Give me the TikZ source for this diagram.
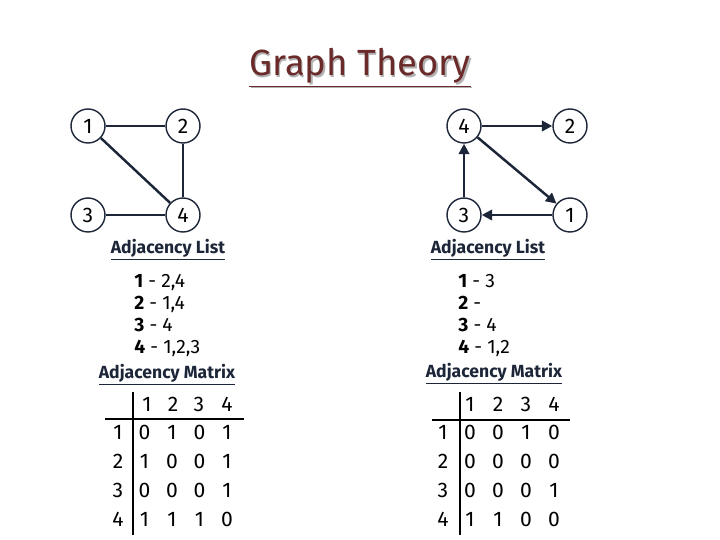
\documentclass[tikz,border=0pt]{standalone}
\usepackage{fontspec}
\setmainfont{Fira Sans}
\usetikzlibrary{arrows.meta}
\definecolor{ink}{HTML}{1C2638}
\definecolor{titlered}{HTML}{6B2A2A}
\tikzset{
  vert/.style={circle, draw=ink, thick, minimum size=0.68cm, inner sep=0pt, font=\large},
  edge/.style={draw=ink, line width=1.4pt},
  arc/.style={edge, -{Triangle[length=6pt,width=6pt]}},
  head/.style={font=\normalsize\bfseries, text=ink},
  cell/.style={font=\large},
  adjlist/.style={anchor=north west, align=left, inner sep=0pt,
    font=\fontsize{11pt}{12.5pt}\selectfont}
}
\newcommand{\ul}[1]{\underline{#1}}
\begin{document}
\begin{tikzpicture}[x=0.02cm, y=-0.02cm]
  \useasboundingbox (0,0) rectangle (720,540);

  % Titolo
  \node[font=\huge, text=gray!60] at (361.5,69.5) {\ul{Graph Theory}};
  \node (title) [font=\huge, text=titlered] at (360,68) {\ul{Graph Theory}};

  % Grafo non orientato
  \node (a1) [vert] at (88,126) {1};
  \node (a2) [vert] at (183,126) {2};
  \node (a3) [vert] at (88,215) {3};
  \node (a4) [vert] at (183,215) {4};
  \draw[edge] (a1) -- (a2);
  \draw[edge] (a1) -- (a4);
  \draw[edge] (a2) -- (a4);
  \draw[edge] (a3) -- (a4);

  % Grafo orientato
  \node (b4) [vert] at (464,126) {4};
  \node (b2) [vert] at (570,126) {2};
  \node (b3) [vert] at (464,215) {3};
  \node (b1) [vert] at (570,215) {1};
  \draw[arc] (b4) -- (b2);
  \draw[arc] (b4) -- (b1);
  \draw[arc] (b3) -- (b4);
  \draw[arc] (b1) -- (b3);

  % Liste di adiacenza
  \node (la) [head] at (168,250) {\ul{Adjacency List}};
  \node (lb) [head] at (488,250) {\ul{Adjacency List}};
  \node (lista) [adjlist] at (134,274)
    {\textbf{1} - 2,4\\ \textbf{2} - 1,4\\ \textbf{3} - 4\\ \textbf{4} - 1,2,3};
  \node (listb) [adjlist] at (458,274)
    {\textbf{1} - 3\\ \textbf{2} -\\ \textbf{3} - 4\\ \textbf{4} - 1,2};

  % Matrici di adiacenza
  \node (ma) [head] at (167,375) {\ul{Adjacency Matrix}};
  \node (mb) [head] at (494,374) {\ul{Adjacency Matrix}};

  \draw[thick] (133,392) -- (133,535);
  \draw[thick] (105,419) -- (244,419);
  \draw[thick] (460,392) -- (460,535);
  \draw[thick] (432,420) -- (570,420);

  \foreach \c [count=\i] in {147,173,199,227} \node[cell] at (\c,404) {\i};
  \foreach \c [count=\i] in {470,498,526,554} \node[cell] at (\c,404) {\i};
  \foreach \r [count=\i] in {432,461,490,519} {
    \node[cell] at (118,\r) {\i};
    \node[cell] at (443,\r) {\i};
  }
  \foreach \row [count=\i] in {{0,1,0,1},{1,0,0,1},{0,0,0,1},{1,1,1,0}}
    \foreach \v [count=\j] in \row
      \node[cell] at (117+27.5*\j, 403+29*\i) {\v};
  \foreach \row [count=\i] in {{0,0,1,0},{0,0,0,0},{0,0,0,1},{1,1,0,0}}
    \foreach \v [count=\j] in \row
      \node[cell] at (442+28*\j, 403+29*\i) {\v};
\end{tikzpicture}
\end{document}
